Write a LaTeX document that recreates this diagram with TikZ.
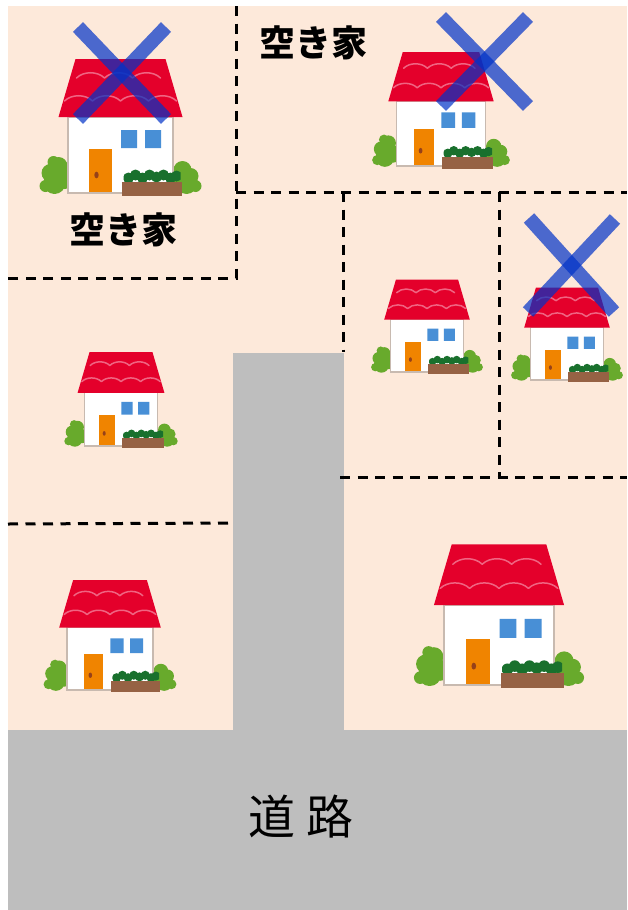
\documentclass[tikz,border=0pt]{standalone}
\usepackage{fontspec}
\newfontfamily\jpfont{Noto Sans CJK JP}

\definecolor{lot}{RGB}{253,233,218}
\definecolor{road}{RGB}{190,190,190}
\definecolor{roofred}{RGB}{228,0,43}
\definecolor{roofwave}{RGB}{240,100,130}
\definecolor{wallline}{RGB}{200,186,176}
\definecolor{doororange}{RGB}{240,132,0}
\definecolor{knob}{RGB}{150,65,25}
\definecolor{winblue}{RGB}{72,143,214}
\definecolor{bushgreen}{RGB}{104,170,44}
\definecolor{planterbrown}{RGB}{150,98,68}
\definecolor{shrubgreen}{RGB}{25,112,45}
\definecolor{crossblue}{RGB}{0,50,200}

\tikzset{
  lotline/.style={draw=black, line width=3pt, dash pattern=on 10pt off 7.5pt},
  crossbar/.style={draw=crossblue, draw opacity=0.7, line width=14pt, line cap=butt},
  roofwaves/.style={draw=roofwave, line width=1.5pt, line cap=round},
  vacant/.style={font=\jpfont\bfseries\fontsize{36}{36}\selectfont, inner sep=0pt},
  roadname/.style={font=\jpfont\fontsize{47}{47}\selectfont, inner sep=0pt},
  % a small house; origin at the middle of the wall's foot, y grows downwards
  pics/house/.style={code={
    \begin{scope}
      \clip (-95,0) rectangle (95,-45);
      \fill[bushgreen] (-66,-10) circle (11) (-70,-20) circle (9) (-62,-27) circle (9)
                       (-67,-31) circle (6) (-75,-7) circle (6) (-56,-14) circle (10);
      \fill[bushgreen] (66,-10) circle (11) (70,-17) circle (8) (62,-23) circle (9)
                       (75,-7) circle (6) (56,-14) circle (10);
    \end{scope}
    \fill[white, draw=wallline, line width=1.3pt] (-52.5,0) rectangle (52.5,-76);
    \fill[roofred] (-62,-76) -- (62,-76) -- (45,-134) -- (-45,-134) -- cycle;
    \draw[roofwaves] \foreach \x in {-56,-28,0,28}
      {(\x,-92) .. controls (\x+7,-99) and (\x+21,-99) .. (\x+28,-92)};
    \draw[roofwaves] \foreach \x in {-44,-16,12}
      {(\x,-115) .. controls (\x+7,-122) and (\x+21,-122) .. (\x+28,-115)};
    \fill[doororange] (-31.5,-1) rectangle (-8.5,-44);
    \fill[knob] (-24,-18) ellipse (2.2 and 3.3);
    \fill[winblue] (0.5,-45) rectangle (16.5,-63) (24.5,-45) rectangle (40.5,-63);
    \begin{scope}
      \clip (3,-10) rectangle (60,-30);
      \fill[shrubgreen] \foreach \x/\y in {8/-15,15/-18,22/-15,29/-18,36/-16,43/-18,50/-15,56/-17}
        {(\x,\y) circle (5.5)};
    \end{scope}
    \fill[planterbrown] (1.5,3) rectangle (61.5,-11);
  }}
}

\begin{document}
\begin{tikzpicture}[x=1pt,y=-1pt]
  \useasboundingbox (0,0) rectangle (627,910);
  \fill[white] (0,0) rectangle (627,910);

  % lots and road
  \fill[lot] (8,6) rectangle (627,730);
  \fill[road] (8,730) rectangle (627,910);
  \fill[road] (233,353) rectangle (344,731);

  % lot boundaries
  \draw[lotline] (236,6) -- (236,278) -- (8,278);
  \draw[lotline] (236,192) -- (627,192);
  \draw[lotline] (343,192) -- (343,352);
  \draw[lotline] (499,192) -- (499,477);
  \draw[lotline] (340,477) -- (627,477);
  \draw[lotline] (8,524) -- (233,523);

  % houses
  \pic[scale=1.00] at (120.5,193) {house};
  \pic[scale=0.85] at (441,166) {house};
  \pic[scale=0.69] at (427,372) {house};
  \pic[scale=0.69] at (567,380) {house};
  \pic[scale=0.70] at (121,446) {house};
  \pic[scale=0.82] at (110,690) {house};
  \pic[scale=1.05] at (499,685) {house};

  % crossed-out houses
  \draw[crossbar] (78,27) -- (166,119);
  \draw[crossbar] (166,27) -- (78,119);
  \draw[crossbar] (441,17) -- (528,106);
  \draw[crossbar] (528,17) -- (441,106);
  \draw[crossbar] (529,218) -- (614,312);
  \draw[crossbar] (615,219) -- (528,312);

  % labels
  \node[vacant] (vacantA) at (313,43) {空き家};
  \node[vacant] (vacantB) at (123,230) {空き家};
  \node[roadname] (road) at (301,817) {道 路};
\end{tikzpicture}
\end{document}
